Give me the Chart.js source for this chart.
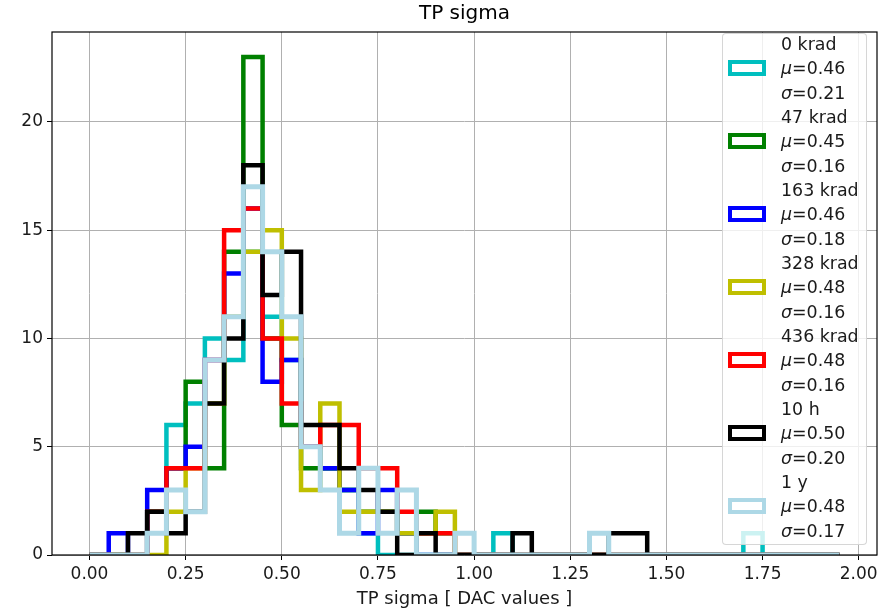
<!DOCTYPE html>
<html>
<head>
<meta charset="utf-8">
<script src="https://cdn.jsdelivr.net/npm/chart.js@4.4.0/dist/chart.umd.min.js"></script>
<style>
  html, body { margin: 0; padding: 0; background: #fff; }
  #wrap { position: relative; width: 885px; height: 611px; font-family: 'DejaVu Sans', sans-serif; }
  #legend { position: absolute; left: 722px; top: 33px; width: 145px; height: 512px; box-sizing: border-box;
            background: rgba(255,255,255,0.8); border: 1px solid rgba(204,204,204,0.8); border-radius: 4px; }
  .swatch { position: absolute; left: 5px; width: 38px; height: 16px; box-sizing: border-box; border: 4px solid; }
  .lab { position: absolute; left: 58px; font-size: 17.4px; line-height: 24.3px; color: #1a1a1a; white-space: nowrap; }
</style>
</head>
<body>
<div id="wrap">
  <canvas id="histChart" width="885" height="611"></canvas>
  <div id="legend"></div>
</div>
<script>
// bin edges (0.05 wide) and tick labels
const binEdges = [0.00, 0.05, 0.10, 0.15, 0.20, 0.25, 0.30, 0.35, 0.40, 0.45,
                  0.50, 0.55, 0.60, 0.65, 0.70, 0.75, 0.80, 0.85, 0.90, 0.95,
                  1.00, 1.05, 1.10, 1.15, 1.20, 1.25, 1.30, 1.35, 1.40, 1.45,
                  1.50, 1.55, 1.60, 1.65, 1.70, 1.75, 1.80, 1.85, 1.90, 1.95];
const xTicks = [0.00, 0.25, 0.50, 0.75, 1.00, 1.25, 1.50, 1.75, 2.00];
const yTicks = [0, 5, 10, 15, 20];

// counts per bin
const counts0krad   = [0,0,0,2,6,7,10,9,14,11,9,5,4,3,1,0,0,0,0,0,0,1,0,0,0,0,0,0,0,0,0,0,0,0,1,0,0,0,0];
const counts47krad  = [0,0,0,2,4,8,4,14,23,10,6,4,4,3,2,2,1,2,1,0,0,0,0,0,0,0,0,0,0,0,0,0,0,0,0,0,0,0,0];
const counts163krad = [0,1,0,3,4,5,9,13,16,8,9,5,4,3,1,3,1,0,0,0,0,0,0,0,0,0,0,0,0,0,0,0,0,0,0,0,0,0,0];
const counts328krad = [0,0,0,0,2,4,7,11,14,15,10,3,7,2,2,2,1,1,2,0,0,0,0,0,0,0,0,0,0,0,0,0,0,0,0,0,0,0,0];
const counts436krad = [0,0,0,2,4,4,9,15,16,10,7,5,6,6,4,4,2,1,1,0,0,0,0,0,0,0,0,0,0,0,0,0,0,0,0,0,0,0,0];
const counts10h     = [0,0,1,2,1,2,7,10,18,12,14,6,6,4,3,2,0,1,0,0,0,0,1,0,0,0,0,1,1,0,0,0,0,0,0,0,0,0,0];
const counts1y      = [0,0,0,1,3,2,9,11,17,14,11,5,3,1,4,1,3,0,0,1,0,0,0,0,0,0,1,0,0,0,0,0,0,0,0,0,0,0,0];

const seriesNames = ['0 krad', '47 krad', '163 krad', '328 krad', '436 krad', '10 h', '1 y'];
const seriesMu    = ['0.46', '0.45', '0.46', '0.48', '0.48', '0.50', '0.48'];
const seriesSigma = ['0.21', '0.16', '0.18', '0.16', '0.16', '0.20', '0.17'];
const seriesCounts = [counts0krad, counts47krad, counts163krad, counts328krad, counts436krad, counts10h, counts1y];

const colors = ['#00bfbf', '#008000', '#0000ff', '#bfbf00', '#ff0000', '#000000', '#add8e6'];
const FONT = 'DejaVu Sans';
Chart.defaults.font.family = FONT;

// step outline like matplotlib histtype='step'
function stepPoints(counts) {
  const pts = [{ x: binEdges[0], y: 0 }];
  counts.forEach((c, i) => pts.push({ x: binEdges[i], y: c }));
  pts.push({ x: binEdges[binEdges.length - 1], y: 0 });
  return pts;
}

const datasets = seriesCounts.map((counts, i) => ({
  label: seriesNames[i],
  data: stepPoints(counts),
  borderColor: colors[i],
  borderWidth: i === 6 ? 5 : 4.5,
  stepped: 'before',
  pointRadius: 0,
  fill: false,
  tension: 0,
  borderJoinStyle: 'miter',
  borderCapStyle: 'butt',
  clip: 0,
  order: seriesCounts.length - i   // later series on top
}));

const framePlugin = {
  id: 'frame',
  afterDatasetsDraw(chart) {
    const a = chart.chartArea, c = chart.ctx;
    c.save();
    c.strokeStyle = '#000';
    c.lineWidth = 1.2;
    c.strokeRect(a.left, a.top, a.right - a.left, a.bottom - a.top);
    c.restore();
  }
};

const tickFont = { family: FONT, size: 17 };

new Chart(document.getElementById('histChart'), {
  type: 'line',
  data: { datasets },
  plugins: [framePlugin],
  options: {
    responsive: false,
    animation: false,
    layout: { padding: { left: 0, right: 8, top: 0, bottom: 0 } },
    plugins: {
      legend: { display: false },
      tooltip: { enabled: false },
      title: {
        display: true, text: 'TP sigma', color: '#000', fullSize: false,
        font: { family: FONT, size: 20, weight: 'normal' },
        padding: { top: 2, bottom: 6 }
      }
    },
    scales: {
      x: {
        type: 'linear', min: -0.0975, max: 2.0475,
        afterBuildTicks: s => { s.ticks = xTicks.map(v => ({ value: v })); },
        afterFit: s => { s.height = 56; },
        ticks: { callback: v => v.toFixed(2), color: '#1a1a1a', font: tickFont, padding: 4, maxRotation: 0, autoSkip: false },
        grid: { color: '#b0b0b0', lineWidth: 1, tickColor: '#000', tickLength: 5 },
        border: { display: false },
        title: { display: true, text: 'TP sigma [ DAC values ]', color: '#1a1a1a', font: { family: FONT, size: 18 }, padding: { top: 0, bottom: 1 } }
      },
      y: {
        min: 0, max: 24.15,
        afterBuildTicks: s => { s.ticks = yTicks.map(v => ({ value: v })); },
        afterFit: s => { s.width = 52; },
        ticks: { color: '#1a1a1a', font: tickFont, padding: 4 },
        grid: { color: '#b0b0b0', lineWidth: 1, tickColor: '#000', tickLength: 5 },
        border: { display: false }
      }
    }
  }
});

// legend drawn over the plot like matplotlib's semi-transparent box
const legend = document.getElementById('legend');
seriesNames.forEach((name, i) => {
  const sw = document.createElement('div');
  sw.className = 'swatch';
  sw.style.borderColor = colors[i];
  sw.style.top = (26 + 73 * i) + 'px';
  legend.appendChild(sw);
  const lab = document.createElement('div');
  lab.className = 'lab';
  lab.style.top = (-2 + 73 * i) + 'px';
  lab.innerHTML = name + '<br><i>\u03bc</i>=' + seriesMu[i] + '<br><i>\u03c3</i>=' + seriesSigma[i];
  legend.appendChild(lab);
});
</script>
</body>
</html>
